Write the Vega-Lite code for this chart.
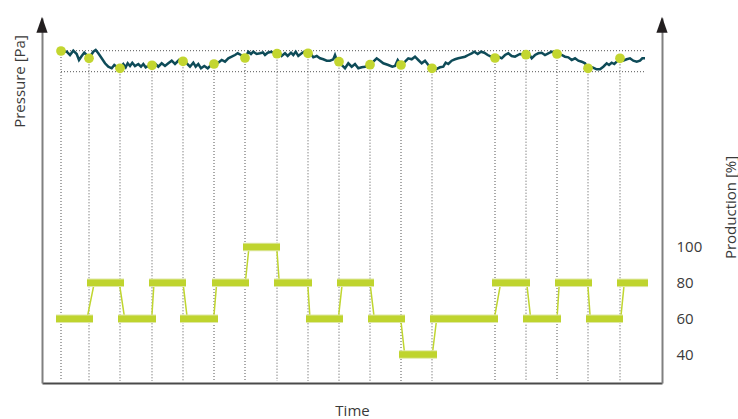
{
  "$schema": "https://vega.github.io/schema/vega-lite/v6.json",
  "width": 620,
  "height": 365,
  "autosize": {"type": "none"},
  "padding": {"left": 42, "top": 18, "right": 76, "bottom": 36},
  "background": "white",
  "config": {
    "view": {"stroke": null},
    "font": "Open Sans",
    "axis": {"grid": false, "ticks": false, "titleFontSize": 15, "titleFontWeight": "normal", "titleColor": "#3a3a3a", "titleFont": "Open Sans",
             "labelFont": "Open Sans", "labelFontSize": 15, "labelColor": "#3a3a3a", "domainWidth": 2},
    "axisX": {"labels": false, "domainColor": "#4a4a4a", "titleY": 27, "titleBaseline": "middle"},
    "axisLeft": {"labels": false, "domainColor": "#808080", "titleAngle": 270, "titleX": -23, "titleY": 63, "titleAlign": "center", "titleBaseline": "middle"},
    "axisRight": {"domainColor": "#808080", "labelPadding": 14, "titleAngle": 270, "titleX": 68, "titleY": 189, "titleAlign": "center", "titleBaseline": "middle"}
  },
  "datasets": {
    "pressure": [
      {"t":19,"p":332},{"t":24.7,"p":331.3},{"t":28,"p":328},{"t":31.3,"p":332.3},{"t":34.7,"p":329},{"t":37,"p":323},{"t":39.7,"p":327},{"t":42.3,"p":330.3},{"t":44.7,"p":328},{"t":47,"p":324.7},
      {"t":51.3,"p":331.3},{"t":53.7,"p":333},{"t":56.3,"p":329.7},{"t":59.7,"p":324.7},{"t":63,"p":319.7},{"t":66.3,"p":316.3},{"t":69.7,"p":314.7},{"t":72.3,"p":318},{"t":74.7,"p":316.3},{"t":78,"p":314.7},
      {"t":81.3,"p":319},{"t":83.7,"p":315.7},{"t":85.7,"p":319.7},{"t":88,"p":317},{"t":90.3,"p":320.3},{"t":93,"p":317},{"t":96.3,"p":319},{"t":99,"p":316.3},{"t":101.3,"p":319},{"t":103.7,"p":315.7},
      {"t":106.3,"p":317},{"t":110,"p":317.7},{"t":113.5,"p":319},{"t":116.3,"p":316.3},{"t":119.7,"p":319.7},{"t":123,"p":317},{"t":126.3,"p":319.7},{"t":129.7,"p":322.3},{"t":133,"p":319},{"t":137,"p":323},
      {"t":141,"p":321.7},{"t":144.7,"p":319.7},{"t":148,"p":316.3},{"t":151.3,"p":320.3},{"t":153.7,"p":316.3},{"t":156.3,"p":319},{"t":159,"p":314.7},{"t":162.3,"p":317},{"t":165.7,"p":314.7},{"t":169,"p":318},
      {"t":172,"p":319},{"t":176.3,"p":320.3},{"t":179.7,"p":323},{"t":183,"p":321.3},{"t":186.3,"p":324.7},{"t":189.7,"p":326.3},{"t":193,"p":328},{"t":195.7,"p":329.7},{"t":199,"p":328},{"t":203,"p":325},
      {"t":206.3,"p":331.3},{"t":209,"p":329},{"t":211.3,"p":331.3},{"t":214.7,"p":329},{"t":218,"p":329.7},{"t":221,"p":330.5},{"t":223,"p":328},{"t":225.7,"p":330.3},{"t":229,"p":331.3},{"t":235,"p":329.3},
      {"t":237,"p":331.3},{"t":239.7,"p":327},{"t":243,"p":329.7},{"t":245.7,"p":327},{"t":249,"p":330.3},{"t":251.3,"p":328},{"t":253.7,"p":331.3},{"t":256.3,"p":327},{"t":259.7,"p":329.7},{"t":262.3,"p":331.3},
      {"t":266,"p":329.7},{"t":269,"p":329},{"t":271.3,"p":325.7},{"t":274.7,"p":327},{"t":278,"p":324.7},{"t":281.3,"p":323.7},{"t":284.7,"p":322.3},{"t":288,"p":322.3},{"t":291.3,"p":323.7},{"t":293,"p":328},
      {"t":294.7,"p":323},{"t":297,"p":321.3},{"t":299.7,"p":318},{"t":303,"p":314.7},{"t":306.3,"p":319.7},{"t":309.7,"p":316.3},{"t":313,"p":319},{"t":316.3,"p":314.7},{"t":319.7,"p":315.7},{"t":323,"p":316.3},
      {"t":328,"p":318.3},{"t":331.3,"p":321.3},{"t":334.7,"p":324.7},{"t":338,"p":322.3},{"t":341.3,"p":319.7},{"t":346.3,"p":318},{"t":350.3,"p":316.3},{"t":353,"p":317},{"t":355.7,"p":323},{"t":359,"p":318},
      {"t":363,"p":321.3},{"t":366.3,"p":324.7},{"t":369.7,"p":323.7},{"t":373,"p":326.3},{"t":376.3,"p":323},{"t":379.7,"p":319.7},{"t":383,"p":322.3},{"t":386.3,"p":318},{"t":390,"p":314.7},{"t":393.7,"p":313.7},
      {"t":398,"p":315.7},{"t":401.3,"p":316.3},{"t":403.7,"p":320.3},{"t":406.3,"p":319},{"t":409.7,"p":322.3},{"t":413,"p":323.7},{"t":416.3,"p":324.7},{"t":419.7,"p":325.5},{"t":423,"p":326.3},{"t":426.3,"p":328},
      {"t":429.7,"p":329.7},{"t":432.3,"p":331.3},{"t":435.7,"p":329},{"t":439,"p":331.3},{"t":442.3,"p":330.3},{"t":445.7,"p":328},{"t":449,"p":326.3},{"t":453,"p":325},{"t":456.3,"p":326.3},{"t":459.7,"p":324.7},
      {"t":463,"p":328},{"t":466.3,"p":329.7},{"t":469.7,"p":327},{"t":473,"p":326.3},{"t":478,"p":329},{"t":484,"p":328.3},{"t":486.3,"p":330.3},{"t":489.7,"p":324.7},{"t":493,"p":328},{"t":496.3,"p":329.7},
      {"t":499.7,"p":330.3},{"t":503,"p":328},{"t":506.3,"p":329.7},{"t":509.7,"p":331.3},{"t":515,"p":329},{"t":519.7,"p":328},{"t":523,"p":326.3},{"t":526.3,"p":325.7},{"t":529.7,"p":323},{"t":533,"p":324.7},
      {"t":536.3,"p":322.3},{"t":539.7,"p":321.3},{"t":543,"p":319.7},{"t":546,"p":314.7},{"t":550.3,"p":315.7},{"t":554.7,"p":313.7},{"t":558,"p":313.7},{"t":561.3,"p":316.3},{"t":564.7,"p":319.7},{"t":567,"p":318},
      {"t":569.7,"p":320.3},{"t":572.3,"p":319},{"t":574.7,"p":321.3},{"t":578,"p":324.7},{"t":581.3,"p":322.3},{"t":584.7,"p":323.7},{"t":588,"p":324.7},{"t":591.3,"p":322.3},{"t":594.7,"p":321.3},{"t":598,"p":322.3},
      {"t":600.3,"p":324.7},{"t":603,"p":324.7}
    ],
    "markers": [
      {"t":19,"p":332},{"t":47,"p":324.7},{"t":78,"p":314.7},{"t":110,"p":317.7},{"t":141,"p":321.7},{"t":172,"p":319},
      {"t":203,"p":325},{"t":235,"p":329.3},{"t":266,"p":329.7},{"t":297,"p":321.3},{"t":328,"p":318.3},{"t":359,"p":318},
      {"t":390,"p":314.7},{"t":453,"p":325},{"t":484,"p":328.3},{"t":515,"p":329},{"t":546,"p":314.7},{"t":578,"p":324.7}
    ],
    "levels": [{"level": 332.3}, {"level": 311.3}],
    "bars": [
      {"start":14,"end":51,"value":60},{"start":45,"end":82,"value":80},{"start":76,"end":114,"value":60},
      {"start":107,"end":144,"value":80},{"start":138,"end":176,"value":60},{"start":170,"end":207,"value":80},
      {"start":201,"end":238,"value":100},{"start":232,"end":270,"value":80},{"start":264,"end":301,"value":60},
      {"start":295,"end":332,"value":80},{"start":326,"end":363,"value":60},{"start":357,"end":395,"value":40},
      {"start":388,"end":456,"value":60},{"start":450,"end":488,"value":80},{"start":481,"end":519,"value":60},
      {"start":513,"end":550,"value":80},{"start":544,"end":581,"value":60},{"start":575,"end":606,"value":80}
    ],
    "prodline": [
      {"t":14,"v":60},{"t":45,"v":60},{"t":52.3,"v":80},{"t":77.3,"v":80},{"t":82.7,"v":60},{"t":109.7,"v":60},
      {"t":112,"v":80},{"t":141,"v":80},{"t":145.3,"v":60},{"t":171.7,"v":60},{"t":174.7,"v":80},{"t":203.3,"v":80},
      {"t":207,"v":100},{"t":234.7,"v":100},{"t":237.3,"v":80},{"t":265.7,"v":80},{"t":268,"v":60},{"t":296.3,"v":60},
      {"t":300.3,"v":80},{"t":328,"v":80},{"t":332.3,"v":60},{"t":358.7,"v":60},{"t":362.7,"v":40},{"t":390.3,"v":40},
      {"t":394.7,"v":60},{"t":452.3,"v":60},{"t":458.7,"v":80},{"t":484.7,"v":80},{"t":488.7,"v":60},{"t":515,"v":60},
      {"t":517.3,"v":80},{"t":545.7,"v":80},{"t":548.3,"v":60},{"t":578.7,"v":60},{"t":582.3,"v":80},{"t":606,"v":80}
    ]
  },
  "layer": [
    {
      "layer": [
        {
          "data": {"name": "levels"},
          "mark": {"type": "rule", "color": "#555555", "strokeDash": [1, 2], "strokeWidth": 1},
          "encoding": {
            "x": {"datum": 19, "type": "quantitative", "title": "Time", "scale": {"domain": [0, 620], "nice": false, "zero": false}},
            "x2": {"datum": 604},
            "y": {"field": "level", "type": "quantitative", "title": "Pressure [Pa]", "scale": {"domain": [0, 365], "nice": false, "zero": false}}
          }
        },
        {
          "data": {"name": "markers"},
          "mark": {"type": "rule", "color": "#555555", "strokeDash": [1, 2], "strokeWidth": 1},
          "encoding": {
            "x": {"field": "t", "type": "quantitative", "title": "Time"},
            "y": {"field": "p", "type": "quantitative", "title": "Pressure [Pa]"},
            "y2": {"datum": 2}
          }
        },
        {
          "data": {"name": "pressure"},
          "mark": {"type": "line", "color": "#0e4b58", "strokeWidth": 2.5, "strokeJoin": "miter"},
          "encoding": {
            "x": {"field": "t", "type": "quantitative", "title": "Time"},
            "y": {"field": "p", "type": "quantitative", "title": "Pressure [Pa]"}
          }
        },
        {
          "data": {"name": "markers"},
          "mark": {"type": "point", "filled": true, "opacity": 1, "size": 95, "color": "#c3d630"},
          "encoding": {
            "x": {"field": "t", "type": "quantitative", "title": "Time"},
            "y": {"field": "p", "type": "quantitative", "title": "Pressure [Pa]"}
          }
        },
        {
          "data": {"values": [{}]},
          "mark": {"type": "point", "filled": true, "opacity": 1, "size": 256, "color": "#231f20", "shape": "M0,-1L0.7,1L-0.7,1Z"},
          "encoding": {
            "x": {"datum": 0, "type": "quantitative", "title": "Time"},
            "y": {"datum": 358.3, "type": "quantitative", "title": "Pressure [Pa]"}
          }
        },
        {
          "data": {"values": [{}]},
          "mark": {"type": "point", "filled": true, "opacity": 1, "size": 256, "color": "#231f20", "shape": "M0,-1L0.7,1L-0.7,1Z"},
          "encoding": {
            "x": {"datum": 620, "type": "quantitative", "title": "Time"},
            "y": {"datum": 358.3, "type": "quantitative", "title": "Pressure [Pa]"}
          }
        }
      ]
    },
    {
      "layer": [
        {
          "data": {"name": "prodline"},
          "mark": {"type": "line", "color": "#c0d630", "strokeWidth": 1.5},
          "encoding": {
            "x": {"field": "t", "type": "quantitative", "title": "Time"},
            "y": {"field": "v", "type": "quantitative", "title": "Production [%]", "scale": {"domain": [24.1, 227.8], "nice": false, "zero": false},
                  "axis": {"orient": "right", "values": [40, 60, 80, 100]}}
          }
        },
        {
          "data": {"name": "bars"},
          "mark": {"type": "rule", "color": "#dfe8a6", "strokeWidth": 8.5, "strokeCap": "butt"},
          "encoding": {
            "x": {"field": "start", "type": "quantitative", "title": "Time"},
            "x2": {"field": "end"},
            "y": {"field": "value", "type": "quantitative", "title": "Production [%]", "axis": {"orient": "right", "values": [40, 60, 80, 100]}}
          }
        },
        {
          "data": {"name": "bars"},
          "mark": {"type": "rule", "color": "#bfd42e", "strokeWidth": 6.5, "strokeCap": "butt"},
          "encoding": {
            "x": {"field": "start", "type": "quantitative", "title": "Time"},
            "x2": {"field": "end"},
            "y": {"field": "value", "type": "quantitative", "title": "Production [%]", "axis": {"orient": "right", "values": [40, 60, 80, 100]}}
          }
        }
      ]
    }
  ],
  "resolve": {"scale": {"y": "independent"}}
}
